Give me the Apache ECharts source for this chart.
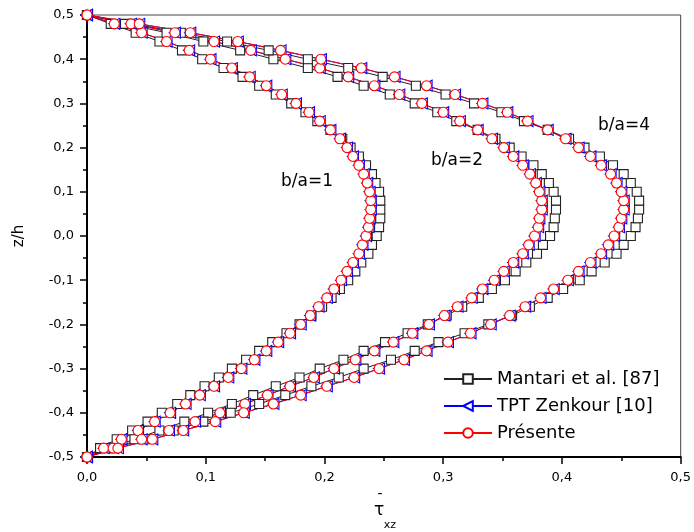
<!DOCTYPE html>
<html>
<head>
<meta charset="utf-8">
<script src="https://cdn.jsdelivr.net/npm/echarts@6/dist/echarts.min.js"></script>
<style>
  body { margin: 0; background: #fff; }
</style>
</head>
<body>
<div id="card" style="width:694px;height:532px;"></div>
<script>
// z/h levels (same for every curve)
var zLevels = [-0.50, -0.48, -0.46, -0.44, -0.42, -0.40, -0.38, -0.36, -0.34, -0.32, -0.30,
  -0.28, -0.26, -0.24, -0.22, -0.20, -0.18, -0.16, -0.14, -0.12, -0.10,
  -0.08, -0.06, -0.04, -0.02, 0.00, 0.02, 0.04, 0.06, 0.08, 0.10,
  0.12, 0.14, 0.16, 0.18, 0.20, 0.22, 0.24, 0.26, 0.28, 0.30,
  0.32, 0.34, 0.36, 0.38, 0.40, 0.42, 0.44, 0.46, 0.48, 0.50]

// tau_xz, b/a = 1, 2, 4
var mantari1 = [0, 0.011, 0.025, 0.038, 0.051, 0.063, 0.076, 0.087, 0.099, 0.111, 0.122, 0.134, 0.145, 0.156, 0.168, 0.179, 0.189, 0.198, 0.206, 0.213, 0.220, 0.226, 0.231, 0.237, 0.240, 0.244, 0.246, 0.247, 0.247, 0.247, 0.246, 0.243, 0.240, 0.235, 0.229, 0.222, 0.215, 0.205, 0.194, 0.184, 0.172, 0.159, 0.145, 0.131, 0.115, 0.097, 0.080, 0.061, 0.041, 0.020, 0]
var mantari2 = [0, 0.018, 0.040, 0.061, 0.082, 0.102, 0.122, 0.140, 0.159, 0.179, 0.196, 0.216, 0.233, 0.251, 0.270, 0.287, 0.303, 0.316, 0.330, 0.341, 0.352, 0.361, 0.370, 0.379, 0.384, 0.390, 0.393, 0.394, 0.395, 0.395, 0.393, 0.389, 0.383, 0.376, 0.366, 0.356, 0.344, 0.329, 0.311, 0.295, 0.276, 0.255, 0.233, 0.211, 0.186, 0.157, 0.129, 0.098, 0.067, 0.032, 0]
var mantari4 = [0, 0.022, 0.049, 0.073, 0.098, 0.121, 0.145, 0.167, 0.189, 0.212, 0.233, 0.256, 0.276, 0.296, 0.318, 0.338, 0.358, 0.373, 0.388, 0.401, 0.415, 0.425, 0.436, 0.446, 0.452, 0.458, 0.462, 0.464, 0.465, 0.465, 0.463, 0.458, 0.452, 0.443, 0.432, 0.419, 0.406, 0.388, 0.368, 0.349, 0.326, 0.302, 0.277, 0.249, 0.220, 0.186, 0.153, 0.118, 0.079, 0.039, 0]

var tpt1 = [0, 0.014, 0.029, 0.043, 0.057, 0.070, 0.083, 0.095, 0.107, 0.119, 0.130, 0.141, 0.151, 0.161, 0.171, 0.180, 0.188, 0.195, 0.202, 0.208, 0.214, 0.219, 0.224, 0.229, 0.232, 0.235, 0.237, 0.238, 0.239, 0.239, 0.238, 0.236, 0.233, 0.229, 0.224, 0.219, 0.213, 0.205, 0.196, 0.187, 0.176, 0.164, 0.151, 0.137, 0.122, 0.104, 0.086, 0.067, 0.046, 0.023, 0]
var tpt2 = [0, 0.022, 0.046, 0.069, 0.091, 0.112, 0.133, 0.152, 0.171, 0.191, 0.208, 0.226, 0.242, 0.258, 0.274, 0.288, 0.301, 0.312, 0.324, 0.333, 0.343, 0.351, 0.359, 0.367, 0.372, 0.377, 0.380, 0.381, 0.383, 0.383, 0.381, 0.378, 0.373, 0.367, 0.359, 0.351, 0.341, 0.329, 0.314, 0.300, 0.282, 0.263, 0.242, 0.220, 0.196, 0.167, 0.138, 0.107, 0.074, 0.037, 0]
var tpt4 = [0, 0.026, 0.055, 0.081, 0.108, 0.132, 0.157, 0.180, 0.202, 0.225, 0.246, 0.267, 0.286, 0.304, 0.323, 0.340, 0.356, 0.369, 0.382, 0.393, 0.405, 0.414, 0.424, 0.433, 0.439, 0.444, 0.448, 0.450, 0.452, 0.452, 0.450, 0.446, 0.441, 0.433, 0.424, 0.414, 0.403, 0.388, 0.371, 0.354, 0.333, 0.310, 0.286, 0.259, 0.231, 0.197, 0.163, 0.127, 0.087, 0.044, 0]

var presente1 = [0, 0.014, 0.029, 0.043, 0.057, 0.070, 0.083, 0.095, 0.107, 0.119, 0.130, 0.141, 0.151, 0.161, 0.171, 0.180, 0.188, 0.195, 0.202, 0.208, 0.214, 0.219, 0.224, 0.229, 0.232, 0.235, 0.237, 0.238, 0.239, 0.239, 0.238, 0.236, 0.233, 0.229, 0.224, 0.219, 0.213, 0.205, 0.196, 0.187, 0.176, 0.164, 0.151, 0.137, 0.122, 0.104, 0.086, 0.067, 0.046, 0.023, 0]
var presente2 = [0, 0.022, 0.046, 0.069, 0.091, 0.112, 0.133, 0.152, 0.171, 0.191, 0.208, 0.226, 0.242, 0.258, 0.274, 0.288, 0.301, 0.312, 0.324, 0.333, 0.343, 0.351, 0.359, 0.367, 0.372, 0.377, 0.380, 0.381, 0.383, 0.383, 0.381, 0.378, 0.373, 0.367, 0.359, 0.351, 0.341, 0.329, 0.314, 0.300, 0.282, 0.263, 0.242, 0.220, 0.196, 0.167, 0.138, 0.107, 0.074, 0.037, 0]
var presente4 = [0, 0.026, 0.055, 0.081, 0.108, 0.132, 0.157, 0.180, 0.202, 0.225, 0.246, 0.267, 0.286, 0.304, 0.323, 0.340, 0.356, 0.369, 0.382, 0.393, 0.405, 0.414, 0.424, 0.433, 0.439, 0.444, 0.448, 0.450, 0.452, 0.452, 0.450, 0.446, 0.441, 0.433, 0.424, 0.414, 0.403, 0.388, 0.371, 0.354, 0.333, 0.310, 0.286, 0.259, 0.231, 0.197, 0.163, 0.127, 0.087, 0.044, 0]

var seriesNames = ['Mantari et al. [87]', 'TPT Zenkour [10]', 'Présente']
var curveLabels = ['b/a=1', 'b/a=2', 'b/a=4']

var font = 'DejaVu Sans'

function pairs (vals) {
  return vals.map(function (v, i) { return [v, zLevels[i]] })
}

function comma (v) {
  if (Math.abs(v) < 1e-9) return '0,0'
  return v.toFixed(1).replace('.', ',')
}

function makeSeries (name, vals, sym, color, size, rotate) {
  return {
    name: name,
    type: 'line',
    data: pairs(vals),
    symbol: sym,
    symbolSize: size,
    symbolRotate: rotate || 0,
    showAllSymbol: true,
    lineStyle: { color: color, width: 1 },
    itemStyle: { color: '#fff', borderColor: color, borderWidth: 1.1 },
    emphasis: { disabled: true },
    silent: true
  }
}

var myChart = echarts.init(document.getElementById('card'))
var option = {
  animation: false,
  backgroundColor: '#fff',
  grid: {
    left: 87,
    right: 11,
    top: 15,
    bottom: 75,
    show: true,
    borderColor: '#444',
    borderWidth: 1
  },
  legend: {
    data: seriesNames,
    orient: 'vertical',
    left: 438,
    top: 365,
    itemWidth: 48,
    itemHeight: 12,
    itemGap: 9,
    textStyle: { fontSize: 18, fontFamily: font, color: '#000' }
  },
  xAxis: {
    type: 'value',
    min: 0,
    max: 0.5,
    interval: 0.1,
    axisLine: { onZero: false, lineStyle: { color: '#000', width: 2 } },
    axisTick: { length: 7, lineStyle: { color: '#000', width: 1.5 } },
    minorTick: { show: true, splitNumber: 2, length: 4, lineStyle: { color: '#000', width: 1.5 } },
    splitLine: { show: false },
    axisLabel: { margin: 14, fontSize: 13, fontFamily: font, color: '#000', formatter: comma }
  },
  yAxis: {
    type: 'value',
    min: -0.5,
    max: 0.5,
    interval: 0.1,
    name: 'z/h',
    nameLocation: 'middle',
    nameGap: 60,
    nameRotate: 90,
    nameTextStyle: { fontSize: 15, fontFamily: font, color: '#000' },
    axisLine: { onZero: false, lineStyle: { color: '#000', width: 2 } },
    axisTick: { length: 7, lineStyle: { color: '#000', width: 1.5 } },
    minorTick: { show: true, splitNumber: 2, length: 4, lineStyle: { color: '#000', width: 1.5 } },
    splitLine: { show: false },
    axisLabel: { margin: 13, fontSize: 13, fontFamily: font, color: '#000', formatter: comma }
  },
  graphic: [
    { type: 'text', x: 281, y: 182, style: { text: curveLabels[0], font: '17px DejaVu Sans', fill: '#000', textVerticalAlign: 'middle' } },
    { type: 'text', x: 431, y: 161, style: { text: curveLabels[1], font: '17px DejaVu Sans', fill: '#000', textVerticalAlign: 'middle' } },
    { type: 'text', x: 598, y: 126, style: { text: curveLabels[2], font: '17px DejaVu Sans', fill: '#000', textVerticalAlign: 'middle' } },
    // x axis title: tau with bar and xz subscript
    { type: 'text', x: 380, y: 494, style: { text: '-', font: '14px DejaVu Sans', fill: '#000', textAlign: 'center', textVerticalAlign: 'middle' } },
    { type: 'text', x: 379, y: 511, style: { text: 'τ', font: '17px DejaVu Sans', fill: '#000', textAlign: 'center', textVerticalAlign: 'middle' } },
    { type: 'text', x: 390, y: 525, style: { text: 'xz', font: '11px DejaVu Sans', fill: '#000', textAlign: 'center', textVerticalAlign: 'middle' } }
  ],
  series: [
    makeSeries(seriesNames[0], mantari1, 'rect', '#222', 9),
    makeSeries(seriesNames[0], mantari2, 'rect', '#222', 9),
    makeSeries(seriesNames[0], mantari4, 'rect', '#222', 9),
    makeSeries(seriesNames[1], tpt1, 'triangle', '#0000ff', 11, 90),
    makeSeries(seriesNames[1], tpt2, 'triangle', '#0000ff', 11, 90),
    makeSeries(seriesNames[1], tpt4, 'triangle', '#0000ff', 11, 90),
    makeSeries(seriesNames[2], presente1, 'circle', '#ff0000', 10),
    makeSeries(seriesNames[2], presente2, 'circle', '#ff0000', 10),
    makeSeries(seriesNames[2], presente4, 'circle', '#ff0000', 10)
  ]
}
myChart.setOption(option)
</script>
</body>
</html>
